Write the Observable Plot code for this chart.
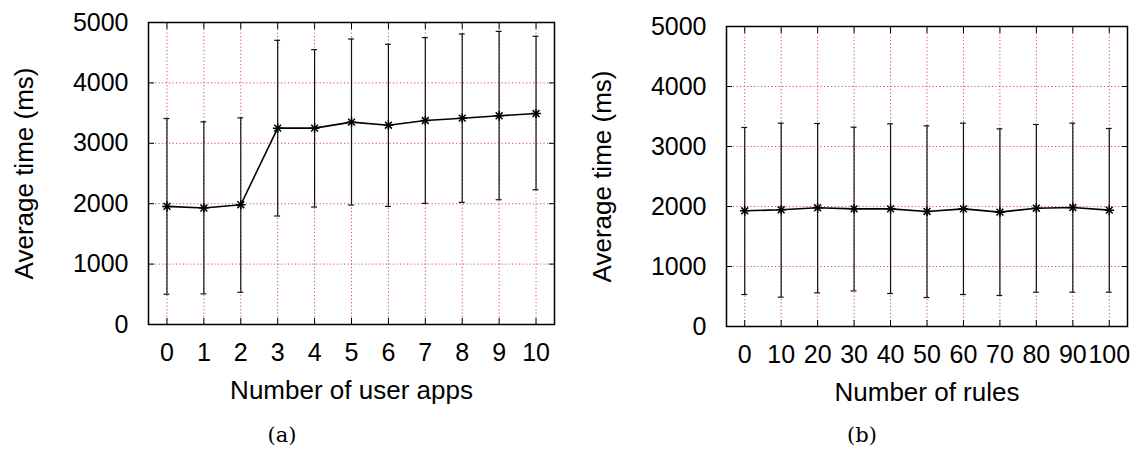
<!DOCTYPE html>
<html>
<head>
<meta charset="utf-8">
<script src="https://cdn.jsdelivr.net/npm/d3@7"></script>
<script src="https://cdn.jsdelivr.net/npm/@observablehq/plot@0.6"></script>
<style>
  html, body { margin: 0; padding: 0; background: #fff; }
  #wrap { position: relative; width: 1138px; height: 449px; overflow: hidden; font-family: "Liberation Sans", Arial, sans-serif; }
  .panel { position: absolute; top: 0; }
  .caption { position: absolute; top: 423px; width: 60px; text-align: center; font-family: "DejaVu Serif", "Liberation Serif", serif; font-size: 21px; color: #000; }
</style>
</head>
<body>
<div id="wrap">
  <div class="panel" id="panelA" style="left:0px"></div>
  <div class="panel" id="panelB" style="left:569px"></div>
  <div class="caption" style="left:252px">(a)</div>
  <div class="caption" style="left:832px">(b)</div>
</div>
<script>
// (a) response time vs. number of user apps
const userApps  = [0, 1, 2, 3, 4, 5, 6, 7, 8, 9, 10];
const appsMean  = [1955, 1928, 1983, 3251, 3251, 3350, 3300, 3377, 3416, 3455, 3493];
const appsLow   = [501, 507, 534, 1796, 1945, 1978, 1955, 2005, 2022, 2066, 2231];
const appsHigh  = [3410, 3355, 3421, 4705, 4551, 4727, 4639, 4749, 4810, 4853, 4772];

// (b) response time vs. number of rules
const ruleCounts = [0, 10, 20, 30, 40, 50, 60, 70, 80, 90, 100];
const rulesMean  = [1928, 1945, 1978, 1961, 1961, 1917, 1961, 1906, 1972, 1983, 1939];
const rulesLow   = [533, 489, 561, 594, 550, 483, 533, 517, 572, 572, 572];
const rulesHigh  = [3317, 3389, 3383, 3322, 3378, 3344, 3389, 3294, 3367, 3389, 3300];

const yTicks = [0, 1000, 2000, 3000, 4000, 5000];
const yLabel = "Average time (ms)";

function panel({xs, mean, low, high, step, xLabel, width, margins}) {
  const rows = xs.map((x, i) => ({x, mean: mean[i], low: low[i], high: high[i]}));
  const cap = step * 0.08;
  const grid = {stroke: "#d03030", strokeDasharray: "1.2,2.3", strokeWidth: 1, strokeOpacity: 0.85};
  const font = {fontSize: 25, fill: "#000"};
  return Plot.plot({
    width,
    height: 415,
    ...margins,
    style: {fontFamily: "'Liberation Sans', Arial, sans-serif", color: "#000", background: "#fff"},
    x: {domain: [xs[0] - step / 2, xs[xs.length - 1] + step / 2]},
    y: {domain: [0, 5000]},
    marks: [
      // dotted grid
      Plot.ruleX(xs, {x: d => d, ...grid}),
      Plot.ruleY(yTicks.slice(1, -1), {y: d => d, ...grid}),
      // inward ticks on all four sides
      Plot.axisX(xs, {anchor: "bottom", tickSize: -6, tickFormat: () => "", label: null, stroke: "#000"}),
      Plot.axisX(xs, {anchor: "top", tickSize: -6, tickFormat: () => "", label: null, stroke: "#000"}),
      Plot.axisY(yTicks, {anchor: "left", tickSize: -6, tickFormat: () => "", label: null, stroke: "#000"}),
      Plot.axisY(yTicks, {anchor: "right", tickSize: -6, tickFormat: () => "", label: null, stroke: "#000"}),
      // tick labels
      Plot.axisX(xs, {anchor: "bottom", tickSize: 0, tickPadding: 19, label: null, tickFormat: d => String(d), ...font}),
      Plot.axisY(yTicks, {anchor: "left", tickSize: 0, tickPadding: 20, label: null, tickFormat: d => String(d), ...font}),
      // axis titles
      Plot.text([xLabel], {frameAnchor: "bottom", lineAnchor: "middle", dy: 66, fontSize: 26, fill: "#000"}),
      Plot.text([yLabel], {frameAnchor: "left", textAnchor: "middle", lineAnchor: "middle", dx: -124, rotate: -90, fontSize: 26, fill: "#000"}),
      // error bars
      Plot.ruleX(rows, {x: "x", y1: "low", y2: "high", stroke: "#111", strokeWidth: 1.2}),
      Plot.ruleY(rows, {y: "low", x1: d => d.x - cap, x2: d => d.x + cap, stroke: "#111", strokeWidth: 1.2}),
      Plot.ruleY(rows, {y: "high", x1: d => d.x - cap, x2: d => d.x + cap, stroke: "#111", strokeWidth: 1.2}),
      // mean line with star markers
      Plot.line(rows, {x: "x", y: "mean", stroke: "#000", strokeWidth: 1.6}),
      Plot.dot(rows, {x: "x", y: "mean", symbol: "times", r: 3.2, stroke: "#000", strokeWidth: 1.5}),
      Plot.dot(rows, {x: "x", y: "mean", symbol: "plus", r: 3.2, stroke: "#000", strokeWidth: 1.5}),
      Plot.frame({stroke: "#000", strokeWidth: 1.5})
    ]
  });
}

document.getElementById("panelA").appendChild(panel({
  xs: userApps, mean: appsMean, low: appsLow, high: appsHigh, step: 1,
  xLabel: "Number of user apps", width: 570,
  margins: {marginLeft: 148, marginRight: 16, marginTop: 22, marginBottom: 91}
}));

document.getElementById("panelB").appendChild(panel({
  xs: ruleCounts, mean: rulesMean, low: rulesLow, high: rulesHigh, step: 10,
  xLabel: "Number of rules", width: 569,
  margins: {marginLeft: 157, marginRight: 11, marginTop: 26, marginBottom: 89}
}));
</script>
</body>
</html>
